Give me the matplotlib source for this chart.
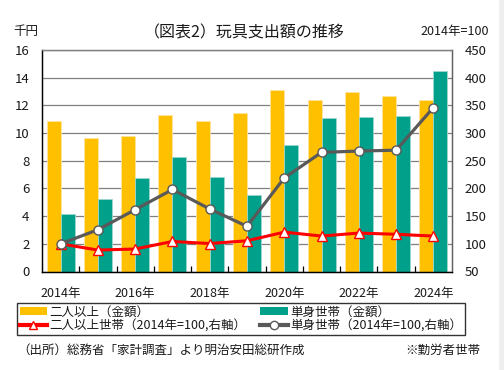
import numpy as np
import matplotlib.pyplot as plt
from matplotlib.lines import Line2D
from matplotlib.patches import Patch, Rectangle

plt.rcParams['font.family'] = ['Noto Sans CJK JP', 'DejaVu Sans']

years = list(range(2014, 2025))
multi_amount = [10.84, 9.61, 9.82, 11.30, 10.89, 11.44, 13.13, 12.36, 12.94, 12.70, 12.36]
single_amount = [4.18, 5.24, 6.76, 8.28, 6.81, 5.50, 9.15, 11.08, 11.18, 11.25, 14.46]
multi_index = [100, 88.7, 90.6, 104.2, 100.5, 105.5, 121.1, 114.0, 119.4, 117.2, 114.0]
single_index = [100, 125.4, 161.7, 198.1, 162.9, 131.6, 219.0, 265.1, 267.5, 269.1, 346.0]
tick_labels = [f'{y}年' if y % 2 == 0 else '' for y in years]

YELLOW = '#FFC000'
GREEN = '#00A08A'
RED = '#FF0000'
GRAY = '#595959'
TXT = '#1a1a1a'

fig = plt.figure(figsize=(5.04, 3.70), dpi=100)
ax = fig.add_axes([42/504, 1 - 271.5/370, 410/504, 221.5/370])
ax2 = ax.twinx()

x = np.arange(len(years))
w = 0.375
ax.bar(x - w/2, multi_amount, w, color=YELLOW, edgecolor='#FFE3A0', linewidth=0.6, zorder=2)
ax.bar(x + w/2, single_amount, w, color=GREEN, edgecolor='#9ED6CC', linewidth=0.6, zorder=2)

ax.set_xlim(-0.5, len(years) - 0.5)
ax.set_ylim(0, 16)
ax.set_yticks(np.arange(0, 17, 2))
ax.grid(axis='y', color='#808080', linewidth=0.9, zorder=0)
ax.set_axisbelow(True)
ax.set_xticks(x)
ax.set_xticklabels(tick_labels)
ax.set_xticks(np.arange(0.5, len(years) - 1, 1), minor=True)
ax.tick_params(axis='x', which='major', length=0, pad=11, labelsize=9, labelcolor=TXT)
ax.tick_params(axis='x', which='minor', direction='in', length=4, width=0.9, color='black')
ax.tick_params(axis='y', length=0, pad=9, labelsize=9.5, labelcolor=TXT)

ax2.plot(x, single_index, color=GRAY, linewidth=2.3, marker='o', markersize=6.5,
         markerfacecolor='white', markeredgecolor=GRAY, markeredgewidth=1.0, zorder=4)
ax2.plot(x, multi_index, color=RED, linewidth=2.2, marker='^', markersize=6.5,
         markerfacecolor='white', markeredgecolor=RED, markeredgewidth=1.0, zorder=3)
ax2.set_ylim(50, 450)
ax2.set_yticks(np.arange(50, 451, 50))
ax2.tick_params(axis='y', length=0, pad=9, labelsize=9.5, labelcolor=TXT)

for a in (ax, ax2):
    a.spines['left'].set_color('black')
    a.spines['bottom'].set_color('black')
    a.spines['top'].set_color('#808080')
    a.spines['right'].set_color('#606060')
    for s in a.spines.values():
        s.set_linewidth(0.9)

handles = [
    Patch(facecolor=YELLOW, edgecolor='none'),
    Line2D([], [], color=RED, linewidth=3, marker='^', markersize=6,
           markerfacecolor='white', markeredgecolor=RED),
    Patch(facecolor=GREEN, edgecolor='none'),
    Line2D([], [], color=GRAY, linewidth=3, marker='o', markersize=6,
           markerfacecolor='white', markeredgecolor=GRAY),
]
labels = ['二人以上（金額）', '二人以上世帯（2014年=100,右軸）',
          '単身世帯（金額）', '単身世帯（2014年=100,右軸）']
leg = fig.legend(handles, labels, ncol=2, loc='upper left',
                 bbox_to_anchor=(17/504, 1 - 303/370), frameon=True, fancybox=False,
                 fontsize=9, handlelength=2.2, handleheight=0.6, handletextpad=0.2,
                 columnspacing=1.1, labelspacing=0.05, borderpad=0.2, borderaxespad=0)
leg.get_frame().set_edgecolor('black')
leg.get_frame().set_linewidth(1.0)
for t in leg.get_texts():
    t.set_color(TXT)

fig.text(244/504, 1 - 33/370, '（図表2）玩具支出額の推移', ha='center', va='center',
         fontsize=11.5, color=TXT)
fig.text(13/504, 1 - 32/370, '千円', ha='left', va='center', fontsize=9, color=TXT)
fig.text(489/504, 1 - 31/370, '2014年=100', ha='right', va='center', fontsize=9, color=TXT)
fig.text(17/504, 1 - 350/370, '（出所）総務省「家計調査」より明治安田総研作成', ha='left',
         va='center', fontsize=9, color=TXT)
fig.text(480/504, 1 - 350/370, '※勤労者世帯', ha='right', va='center', fontsize=9, color=TXT)

fig.patches.append(Rectangle((499/504, 0), 5/504, 1, transform=fig.transFigure,
                             facecolor='#EFEFEF', edgecolor='none'))

fig.savefig('out.png', dpi=100)
